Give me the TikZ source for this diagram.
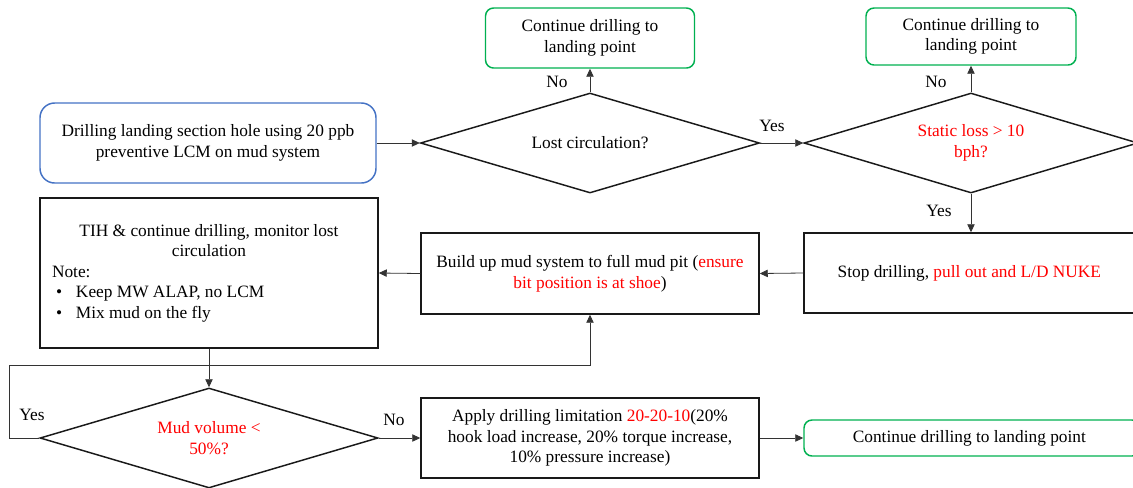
\documentclass[tikz,border=0pt]{standalone}
\usepackage{fontspec}
\setmainfont{Liberation Serif}
\usetikzlibrary{shapes.geometric,arrows.meta}
\newlength\pxu
\setlength\pxu{0.75pt}
\definecolor{gbord}{RGB}{0,176,80}
\definecolor{bbord}{RGB}{68,114,196}
\definecolor{rtxt}{RGB}{255,0,0}
\tikzset{
  every node/.style={font=\rmfamily\fontsize{13}{15.4}\selectfont, inner sep=0pt},
  box/.style={draw=black!90, line width=1.1pt, align=center},
  gbox/.style={draw=gbord, line width=1.1pt, rounded corners=6pt, align=center},
  bbox/.style={draw=bbord, line width=1.1pt, rounded corners=11pt, align=center},
  dia/.style={draw=black!90, line width=1.1pt, diamond, aspect=3.4, align=center},
  conn/.style={draw=black!80, line width=0.6pt, -{Triangle[length=6pt,width=5.5pt]}},
  lbl/.style={text=black},
}
\begin{document}
\begin{tikzpicture}[x=0.75pt,y=-0.75pt]
\useasboundingbox (0,0) rectangle (1133,487);
\node[bbox, minimum width=336\pxu, minimum height=80\pxu] (start) at (208,143)
  {Drilling landing section hole using 20 ppb\\preventive LCM on mud system};
\node[dia, minimum width=339\pxu, minimum height=100\pxu] (d1) at (590,143) {Lost circulation?};
\node[gbox, minimum width=209\pxu, minimum height=60\pxu] (g1) at (590,38) {Continue drilling to\\landing point};
\node[dia, minimum width=334\pxu, minimum height=100\pxu, text=rtxt] (d2) at (971,143) {Static loss > 10\\bph?};
\node[gbox, minimum width=210\pxu, minimum height=57\pxu] (g2) at (971,36.5) {Continue drilling to\\landing point};
\node[box, minimum width=336\pxu, minimum height=80\pxu] (stop) at (972,273)
  {Stop drilling, \textcolor{rtxt}{pull out and L/D NUKE}\hspace{4pt}};
\node[box, minimum width=338\pxu, minimum height=81\pxu] (build) at (590,273.5)
  {Build up mud system to full mud pit (\textcolor{rtxt}{ensure}\\\textcolor{rtxt}{bit position is at shoe})};
\node[box, minimum width=338\pxu, minimum height=150\pxu, text width=314\pxu, align=none] (tih) at (209,273)
  {\centering TIH \& continue drilling, monitor lost\\circulation\par
   \raggedright Note:\par
   \makebox[24\pxu][l]{\hspace{4\pxu}\textbullet}Keep MW ALAP, no LCM\par
   \makebox[24\pxu][l]{\hspace{4\pxu}\textbullet}Mix mud on the fly\par};
\node[dia, minimum width=338\pxu, minimum height=100\pxu, text=rtxt] (d3) at (209,438) {Mud volume <\\50\%?};
\node[box, minimum width=338\pxu, minimum height=80\pxu] (apply) at (590,438)
  {Apply drilling limitation \textcolor{rtxt}{20-20-10}(20\%\\hook load increase, 20\% torque increase,\\10\% pressure increase)};
\node[gbox, minimum width=336\pxu, minimum height=36\pxu] (g3) at (972,438)
  {Continue drilling to landing point\hspace{4pt}};
% labels
\node[lbl] (l1) at (557,82) {No};
\node[lbl] (l2) at (772,126) {Yes};
\node[lbl] (l3) at (936,82) {No};
\node[lbl] (l4) at (939,211) {Yes};
\node[lbl] (l5) at (32,415) {Yes};
\node[lbl] (l6) at (394,420) {No};
% connectors
\coordinate (loopc) at (9,365);
\draw[conn] (start.east) -- (d1.west);
\draw[conn] (d1.north) -- (g1.south);
\draw[conn] (d1.east) -- (d2.west);
\draw[conn] (d2.north) -- (g2.south);
\draw[conn] (d2.south) -- (d2.south |- stop.north);
\draw[conn] (stop.west) -- (build.east);
\draw[conn] (build.west) -- (tih.east);
\draw[conn] (tih.south) -- (d3.north);
\draw[conn] (d3.east) -- (apply.west);
\draw[conn] (apply.east) -- (g3.west);
\draw[conn] (d3.west) -| (loopc) -| (build.south);
\end{tikzpicture}
\end{document}
